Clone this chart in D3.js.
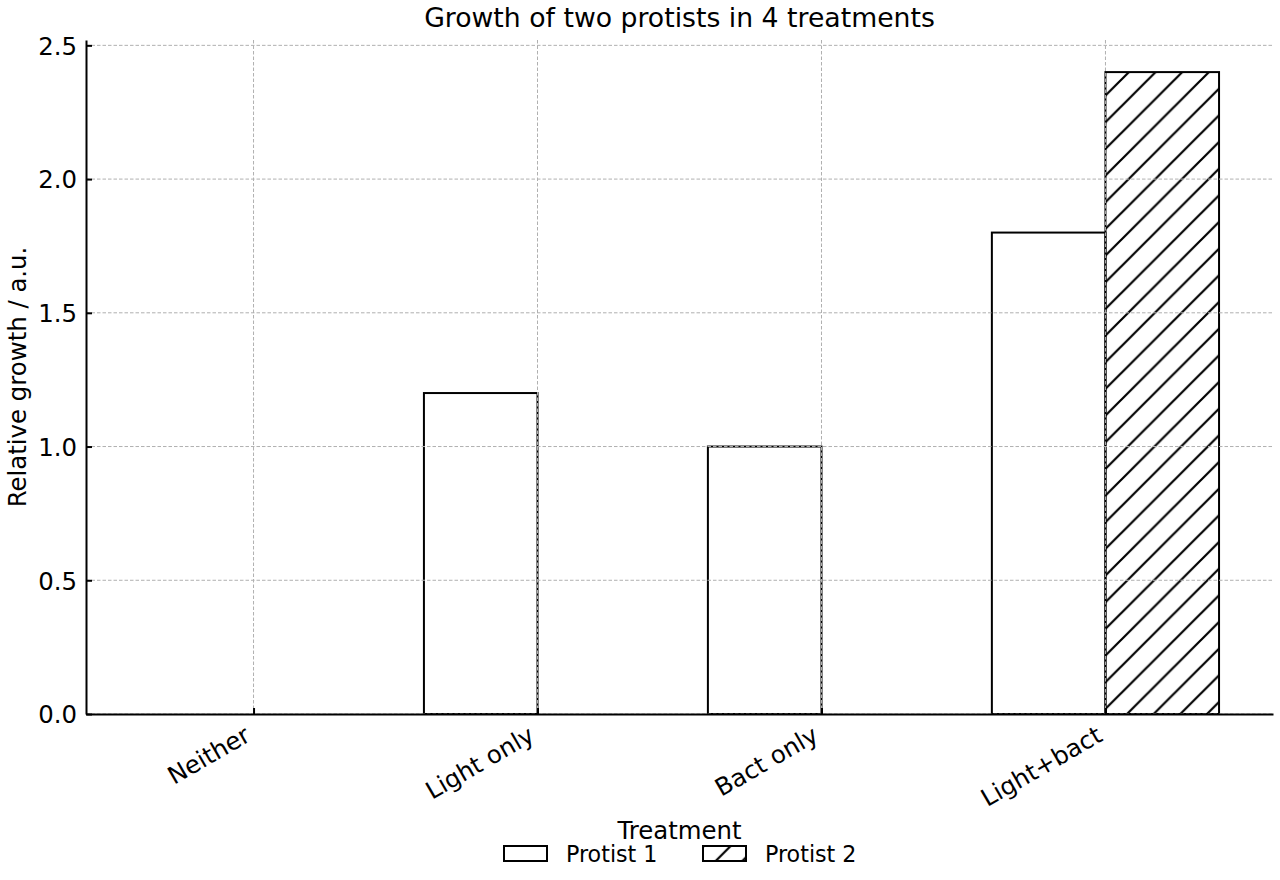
<!DOCTYPE html>
<html>
  <head>
    <meta charset="utf-8">
    <style>
      body { margin: 0; background: #fff; }
      text { font-family: "DejaVu Sans", sans-serif; fill: #000; }
    </style>
    <title>Growth of two protists</title>
  </head>
  <body>
  <div id="viz-wrapper"></div>
  <script src="https://cdnjs.cloudflare.com/ajax/libs/d3/7.8.5/d3.min.js" charset="utf-8"></script>
  <script type="text/javascript">

    var treatments = ['Neither', 'Light only', 'Bact only', 'Light+bact'];
    var protist1 = [0, 1.2, 1.0, 1.8];
    var protist2 = [0, 0, 0, 2.4];
    var seriesNames = ['Protist 1', 'Protist 2'];
    var yTicks = [0, 0.5, 1.0, 1.5, 2.0, 2.5];

    var width = 1280, height = 880;
    var padL = 86, padR = 1273, padT = 40, padB = 714;
    var barW = 0.4;

    var svg = d3.select('#viz-wrapper')
                .append('svg')
                .attr('width', width)
                .attr('height', height);

    // hatch for protist 2
    var hs = 160 / 6;
    svg.append('defs').append('pattern')
       .attr('id', 'hatch')
       .attr('patternUnits', 'userSpaceOnUse')
       .attr('x', 1)
       .attr('width', hs).attr('height', hs)
       .append('path')
       .attr('d', 'M-2,' + (hs + 2) + ' L' + (hs + 2) + ',-2 M-2,2 L2,-2 M' + (hs - 2) + ',' + (hs + 2) + ' L' + (hs + 2) + ',' + (hs - 2))
       .style('stroke', '#000')
       .style('stroke-width', 2.2);

    var x = d3.scaleLinear().domain([-0.59, 3.59]).range([padL, padR]);
    var y = d3.scaleLinear().domain([0, 2.52]).range([padB, padT]);

    var bars = [];
    treatments.forEach(function(t, i) {
      bars.push({i: i, v: protist1[i], s: 0});
      bars.push({i: i, v: protist2[i], s: 1});
    });

    svg.selectAll('rect.bar')
       .data(bars)
       .enter().append('rect')
       .attr('class', 'bar')
       .attr('x', function(d) { return x(d.i - barW + d.s * barW); })
       .attr('width', function(d) { return x(barW) - x(0); })
       .attr('y', function(d) { return y(d.v); })
       .attr('height', function(d) { return y(0) - y(d.v); })
       .style('fill', function(d) { return d.s ? 'url(#hatch)' : '#fff'; })
       .style('stroke', '#000')
       .style('stroke-width', 2);

    // grid sits on top of the bars
    var grid = svg.append('g');
    grid.selectAll('line.h')
        .data(yTicks)
        .enter().append('line')
        .attr('class', 'h')
        .attr('x1', padL).attr('x2', padR)
        .attr('y1', function(d) { return y(d); })
        .attr('y2', function(d) { return y(d); });
    grid.selectAll('line.v')
        .data(treatments)
        .enter().append('line')
        .attr('class', 'v')
        .attr('x1', function(d, i) { return x(i); })
        .attr('x2', function(d, i) { return x(i); })
        .attr('y1', padT).attr('y2', padB);
    grid.selectAll('line')
        .style('stroke', '#b0b0b0')
        .style('stroke-width', 1)
        .style('stroke-dasharray', '3.5,2');

    // axes, ticks pointing inward
    var yAxis = svg.append('g')
        .attr('transform', 'translate(' + padL + ',0)')
        .call(d3.axisLeft(y).tickValues(yTicks).tickFormat(d3.format('.1f'))
               .tickSizeInner(-6).tickSizeOuter(0).tickPadding(9));
    var xAxis = svg.append('g')
        .attr('transform', 'translate(0,' + padB + ')')
        .call(d3.axisBottom(x).tickValues(d3.range(treatments.length))
               .tickFormat(function(d) { return treatments[d]; })
               .tickSizeInner(-6).tickSizeOuter(0));

    [xAxis, yAxis].forEach(function(a) {
      a.select('.domain').style('stroke', '#000').style('stroke-width', 2);
      a.selectAll('.tick line').style('stroke', '#000').style('stroke-width', 2);
      a.selectAll('text').style('font-family', '"DejaVu Sans", sans-serif')
       .style('font-size', '24.4px').style('fill', '#000');
    });
    yAxis.selectAll('text').attr('dy', '0.36em');

    xAxis.selectAll('text')
         .attr('text-anchor', 'end')
         .attr('dy', null)
         .attr('y', 0)
         .attr('transform', 'translate(-2,26) rotate(-30)');

    svg.append('text')
       .attr('x', (padL + padR) / 2).attr('y', 27)
       .attr('text-anchor', 'middle')
       .style('font-size', '26.7px')
       .text('Growth of two protists in 4 treatments');

    svg.append('text')
       .attr('transform', 'translate(26,' + ((padT + padB) / 2) + ') rotate(-90)')
       .attr('text-anchor', 'middle')
       .style('font-size', '24.4px')
       .text('Relative growth / a.u.');

    svg.append('text')
       .attr('x', (padL + padR) / 2).attr('y', 839)
       .attr('text-anchor', 'middle')
       .style('font-size', '24.4px')
       .text('Treatment');

    // legend
    var legend = svg.selectAll('g.leg')
        .data(seriesNames)
        .enter().append('g')
        .attr('class', 'leg')
        .attr('transform', function(d, i) { return 'translate(' + (504 + i * 199) + ',846)'; });
    legend.append('rect')
        .attr('width', 43).attr('height', 15)
        .style('fill', function(d, i) { return i ? 'url(#hatch)' : '#fff'; })
        .style('stroke', '#000')
        .style('stroke-width', 2);
    legend.append('text')
        .attr('x', 62).attr('y', 16)
        .style('font-size', '22.2px')
        .text(function(d) { return d; });

  </script>
  </body>
</html>
